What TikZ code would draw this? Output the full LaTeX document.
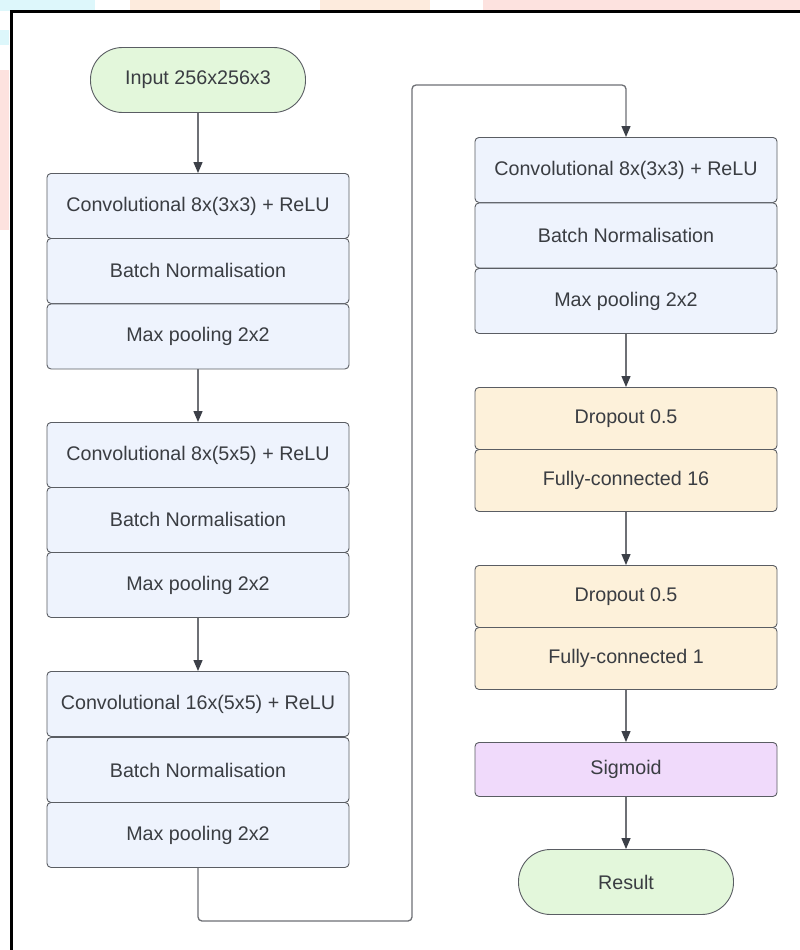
\documentclass[tikz,border=0pt]{standalone}
\usepackage{fontspec}
\setmainfont{Liberation Sans}
\usetikzlibrary{arrows.meta}
\definecolor{bluefill}{HTML}{EEF3FD}
\definecolor{orangefill}{HTML}{FDF1DA}
\definecolor{purplefill}{HTML}{F0DAFB}
\definecolor{greenfill}{HTML}{E3F7DB}
\definecolor{edgec}{HTML}{5A5D63}
\definecolor{linec}{HTML}{6E7075}
\definecolor{tipc}{HTML}{3C4048}
\definecolor{txt}{HTML}{3A3D42}
\definecolor{wcyan}{HTML}{DDF7FB}
\definecolor{wpeach}{HTML}{FDEBDD}
\definecolor{wpink}{HTML}{FDE2DF}
\tikzset{
  x=1pt, y=-1pt,
  layer/.style={draw=edgec, line width=0.9pt, rounded corners=4pt, minimum width=302pt,
    minimum height=65pt, inner sep=0pt, text=txt, font=\fontsize{19.7}{23}\selectfont, anchor=north},
  bluebox/.style={layer, fill=bluefill},
  orangebox/.style={layer, fill=orangefill, minimum height=62pt},
  purplebox/.style={layer, fill=purplefill, minimum height=54pt},
  terminal/.style={draw=edgec, line width=0.9pt, rounded corners=32pt, fill=greenfill,
    minimum width=215pt, minimum height=65pt, inner sep=0pt, text=txt,
    font=\fontsize{19.7}{23}\selectfont},
  conn/.style={draw=linec, line width=1.3pt, rounded corners=4pt,
    -{Triangle[length=11pt,width=9pt,fill=tipc,color=tipc]}}
}
\begin{document}
\begin{tikzpicture}
\useasboundingbox (0,0) rectangle (800,950);
\fill[white] (0,0) rectangle (800,950);
% faint background outside the frame
\fill[wcyan] (0,0) rectangle (95,11);
\fill[wpeach] (130,0) rectangle (220,11);
\fill[wpeach] (320,0) rectangle (430,11);
\fill[wpink] (483,0) rectangle (800,11);
\fill[wcyan] (0,30) rectangle (9,45);
\fill[wpink] (0,70) rectangle (9,230);
% frame
\draw[black, line width=3pt] (11,951) -- (11,12) -- (801,12);

% left column
\node[terminal] (in) at (198,80) {Input 256x256x3};
\node[bluebox] (c1) at (198,173) {Convolutional 8x(3x3) + ReLU};
\node[bluebox] (b1) at (198,238) {Batch Normalisation};
\node[bluebox] (m1) at (198,303.5) {Max pooling 2x2};
\node[bluebox] (c2) at (198,422) {Convolutional 8x(5x5) + ReLU};
\node[bluebox] (b2) at (198,487) {Batch Normalisation};
\node[bluebox] (m2) at (198,552) {Max pooling 2x2};
\node[bluebox] (c3) at (198,671) {Convolutional 16x(5x5) + ReLU};
\node[bluebox] (b3) at (198,737) {Batch Normalisation};
\node[bluebox] (m3) at (198,802) {Max pooling 2x2};

% right column
\node[bluebox] (c4) at (626,137) {Convolutional 8x(3x3) + ReLU};
\node[bluebox] (b4) at (626,202.5) {Batch Normalisation};
\node[bluebox] (m4) at (626,268) {Max pooling 2x2};
\node[orangebox] (d1) at (626,387) {Dropout 0.5};
\node[orangebox] (f1) at (626,449) {Fully-connected 16};
\node[orangebox] (d2) at (626,565) {Dropout 0.5};
\node[orangebox] (f2) at (626,627) {Fully-connected 1};
\node[purplebox] (sg) at (626,742) {Sigmoid};
\node[terminal] (res) at (626,882) {Result};

\coordinate (j1) at (198,921);
\coordinate (j2) at (412,921);
\coordinate (j3) at (412,85);
\coordinate (j4) at (626,85);

% connectors
\draw[conn] (in.south) -- (c1.north);
\draw[conn] (m1.south) -- (c2.north);
\draw[conn] (m2.south) -- (c3.north);
\draw[conn] (m3.south) -- (j1) -- (j2) -- (j3) -- (j4) -- (c4.north);
\draw[conn] (m4.south) -- (d1.north);
\draw[conn] (f1.south) -- (d2.north);
\draw[conn] (f2.south) -- (sg.north);
\draw[conn] (sg.south) -- (res.north);
\end{tikzpicture}
\end{document}
